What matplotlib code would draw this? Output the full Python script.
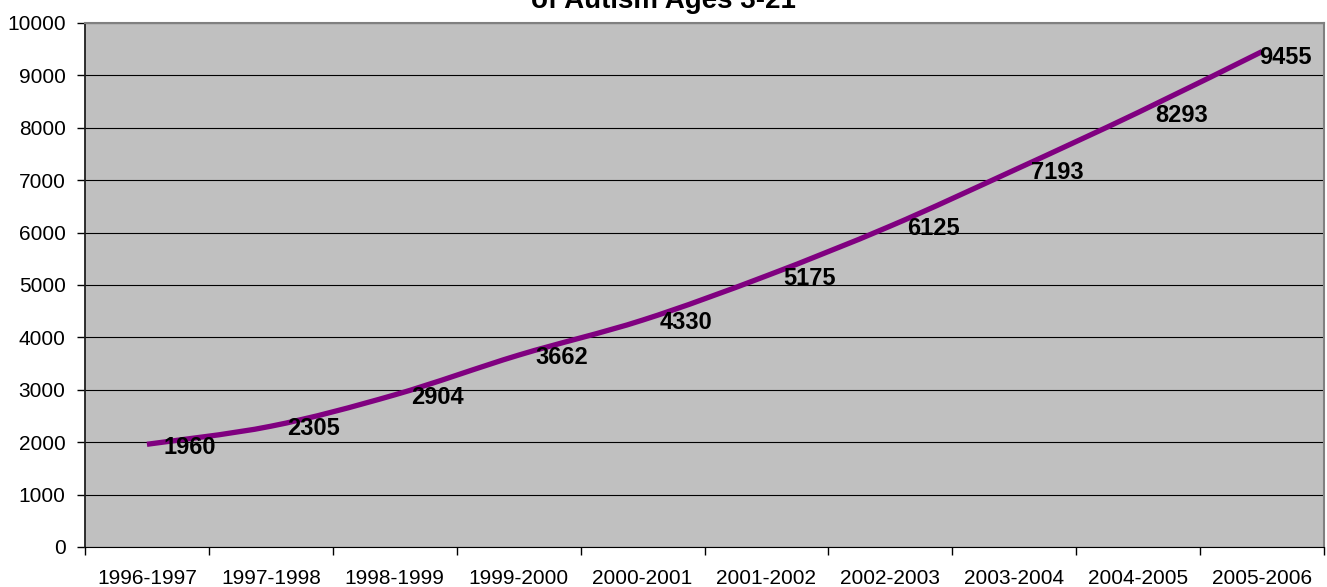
import matplotlib
matplotlib.use("Agg")
import matplotlib.pyplot as plt
from matplotlib.path import Path
from matplotlib.patches import PathPatch

categories = ["1996-1997", "1997-1998", "1998-1999", "1999-2000", "2000-2001",
              "2001-2002", "2002-2003", "2003-2004", "2004-2005", "2005-2006"]
values = [1960, 2305, 2904, 3662, 4330, 5175, 6125, 7193, 8293, 9455]
yticks = list(range(0, 10001, 1000))
title_line = "of Autism Ages 3-21"

plt.rcParams['font.family'] = ['Liberation Sans', 'DejaVu Sans']

fig = plt.figure(figsize=(13.27, 5.87), dpi=100)
ax = fig.add_axes([85/1327, 1-547/587, (1324-85)/1327, (547-23)/587])
ax.set_facecolor('#C0C0C0')

x = list(range(len(categories)))
pts = list(zip(x, values))
n = len(pts)
verts = [pts[0]]
codes = [Path.MOVETO]
for i in range(n - 1):
    p0 = pts[i - 1] if i > 0 else pts[i]
    p1 = pts[i]
    p2 = pts[i + 1]
    p3 = pts[i + 2] if i + 2 < n else pts[i + 1]
    c1 = (p1[0] + (p2[0] - p0[0]) / 6, p1[1] + (p2[1] - p0[1]) / 6)
    c2 = (p2[0] - (p3[0] - p1[0]) / 6, p2[1] - (p3[1] - p1[1]) / 6)
    verts += [c1, c2, p2]
    codes += [Path.CURVE4] * 3
ax.add_patch(PathPatch(Path(verts, codes), facecolor='none', edgecolor='#800080',
                       lw=3.8, capstyle='butt', zorder=3))

for i, v in enumerate(values):
    if i == len(values) - 1:
        off = (-2, -4)
    else:
        off = (12, -2)
    ax.annotate(str(v), (i, v), xytext=off, textcoords='offset points',
                ha='left', va='center', fontsize=17, fontweight='bold', zorder=4)

ax.set_xlim(-0.5, len(categories) - 0.5)
ax.set_ylim(0, 10000)
ax.set_yticks(yticks)
ax.set_yticklabels([str(t) for t in yticks], fontsize=15)
ax.yaxis.grid(True, color='black', lw=0.8)
ax.set_axisbelow(True)

ax.set_xticks(x)
ax.set_xticklabels(categories, fontsize=15)
ax.tick_params(axis='x', length=0, pad=16)
ax.set_xticks([i + 0.5 for i in range(-1, len(categories))], minor=True)
ax.tick_params(axis='x', which='minor', length=6, width=1, color='black', direction='out')
ax.tick_params(axis='y', length=6, width=1, color='black', direction='out', pad=8)

for s in ['top', 'right']:
    ax.spines[s].set_color('#808080')
    ax.spines[s].set_linewidth(1.5)
ax.spines['left'].set_color('#202020')
ax.spines['left'].set_linewidth(1.3)
ax.spines['bottom'].set_color('black')

fig.text(0.5, 1 - 8/587, title_line, ha='center', va='baseline',
         fontsize=20, fontweight='bold')

fig.savefig('out.png', dpi=100)
